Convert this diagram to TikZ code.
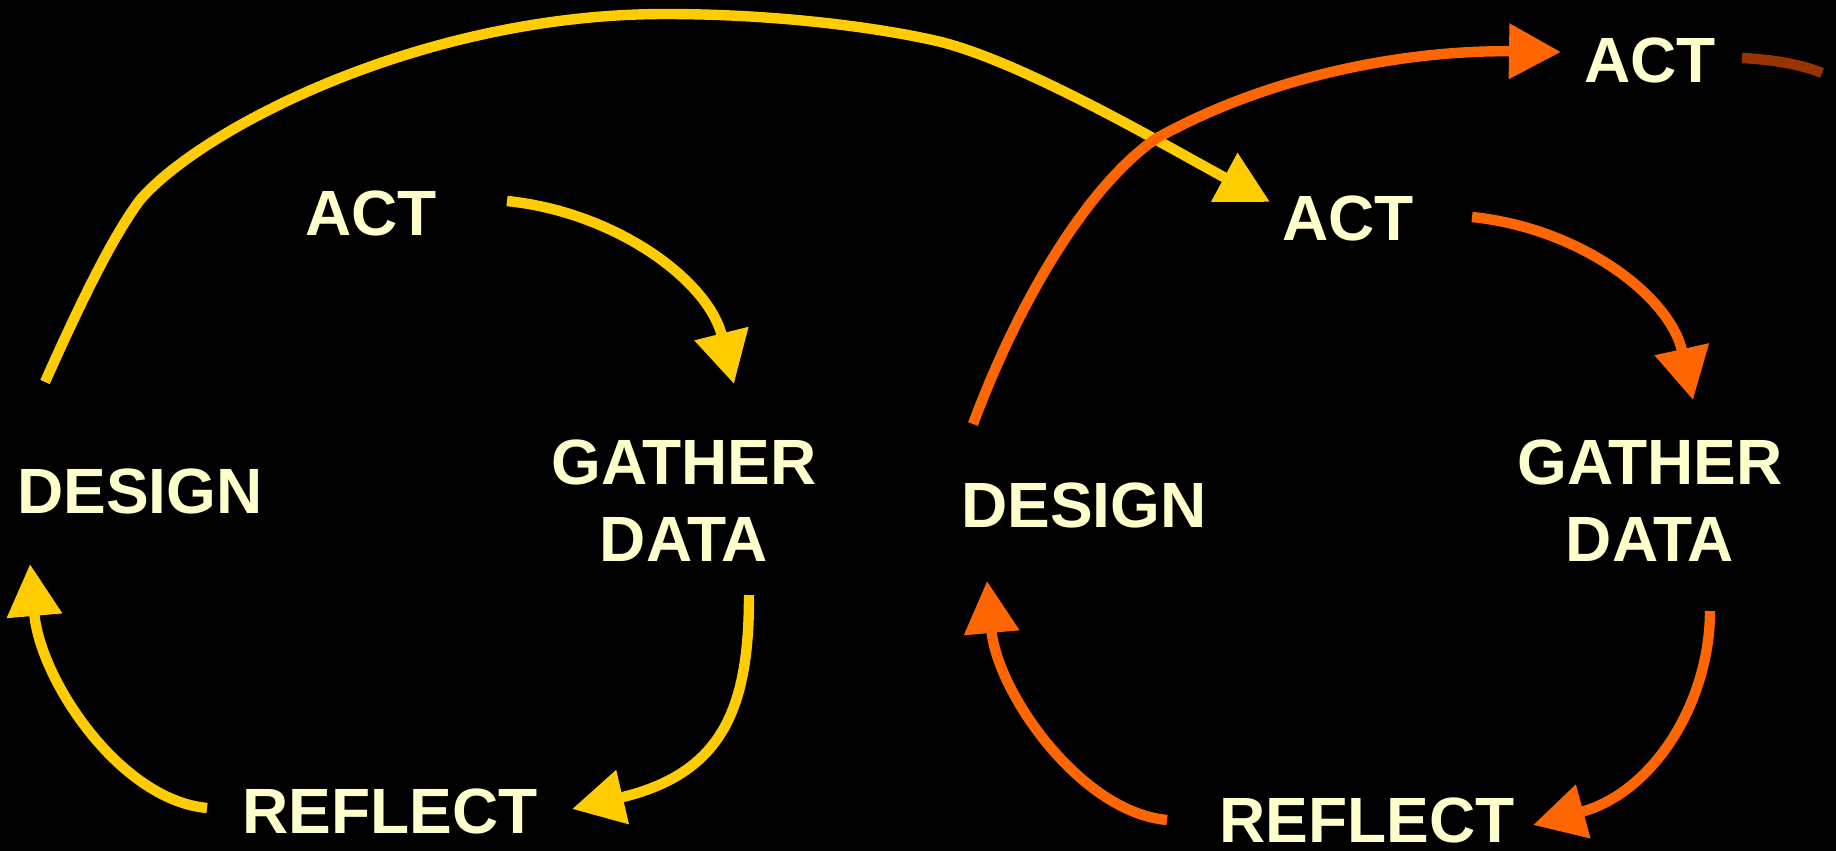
\documentclass[tikz,border=0pt]{standalone}
\usepackage{fontspec}
\setmainfont{Liberation Sans}
\usetikzlibrary{arrows.meta}
\definecolor{txt}{HTML}{FFFFCC}
\definecolor{cycA}{HTML}{FFCC00}
\definecolor{cycB}{HTML}{FF6600}
\definecolor{cycC}{HTML}{993300}
\begin{document}
\begin{tikzpicture}[x=0.5pt,y=-0.5pt,
  lbl/.style={text=txt, font=\fontsize{32}{38.5}\selectfont\bfseries, inner sep=0pt, align=center},
  flow/.style={line width=5.2pt, -{Triangle[length=26pt,width=26.5pt]}},
  stub/.style={line width=5.2pt},
]
\fill[black] (0,0) rectangle (1836,851);
\useasboundingbox (0,0) rectangle (1836,851);

% labels, first cycle
\node[lbl, anchor=base] (act1) at (371,235) {ACT};
\node[lbl] (gat1) at (684,501) {GATHER\\DATA};
\node[lbl, anchor=base] (ref1) at (390,833) {REFLECT};
\node[lbl, anchor=base] (des1) at (140,513) {DESIGN};
% labels, second cycle
\node[lbl, anchor=base] (act2) at (1348,240) {ACT};
\node[lbl] (gat2) at (1650,501) {GATHER\\DATA};
\node[lbl, anchor=base] (ref2) at (1367,842) {REFLECT};
\node[lbl, anchor=base] (des2) at (1084,527) {DESIGN};
% third cycle start
\node[lbl, anchor=base] (act3) at (1650,82) {ACT};

% connector end points
\coordinate (a1s) at (507,201);  \coordinate (a1e) at (734,384);
\coordinate (g1s) at (749,595);  \coordinate (g1e) at (572,809);
\coordinate (r1s) at (207,808);  \coordinate (r1e) at (30,564);
\coordinate (d1s) at (45,382);   \coordinate (d1e) at (1270,202);
\coordinate (a2s) at (1472,217); \coordinate (a2e) at (1693,400);
\coordinate (g2s) at (1710,611); \coordinate (g2e) at (1533,825);
\coordinate (r2s) at (1167,820); \coordinate (r2e) at (987,581);
\coordinate (d2s) at (973,424);  \coordinate (d2e) at (1561,52);
\coordinate (a3s) at (1742,58);  \coordinate (a3e) at (1822,73);

% first cycle
\draw[flow, cycA] (a1s) .. controls (615,212) and (708,280) .. (a1e);
\draw[flow, cycA] (g1s) .. controls (749,705) and (725,773) .. (g1e);
\draw[flow, cycA] (r1s) .. controls (120,800) and (40,680) .. (r1e);
\draw[flow, cycA] (d1s) .. controls (75,315) and (110,240) .. (140,200)
   .. controls (200,130) and (420,14) .. (665,14)
   .. controls (780,14) and (880,28) .. (937,41)
   .. controls (1022,61) and (1168,147) .. (d1e);

% second cycle
\draw[flow, cycB] (a2s) .. controls (1580,228) and (1670,296) .. (a2e);
\draw[flow, cycB] (g2s) .. controls (1710,700) and (1655,792) .. (g2e);
\draw[flow, cycB] (r2s) .. controls (1080,812) and (997,692) .. (r2e);
\draw[flow, cycB] (d2s) .. controls (1025,285) and (1095,180) .. (1157,138)
   .. controls (1280,70) and (1420,50) .. (d2e);

% third cycle
\draw[stub, cycC] (a3s) .. controls (1780,60) and (1805,66) .. (a3e);
\end{tikzpicture}
\end{document}
